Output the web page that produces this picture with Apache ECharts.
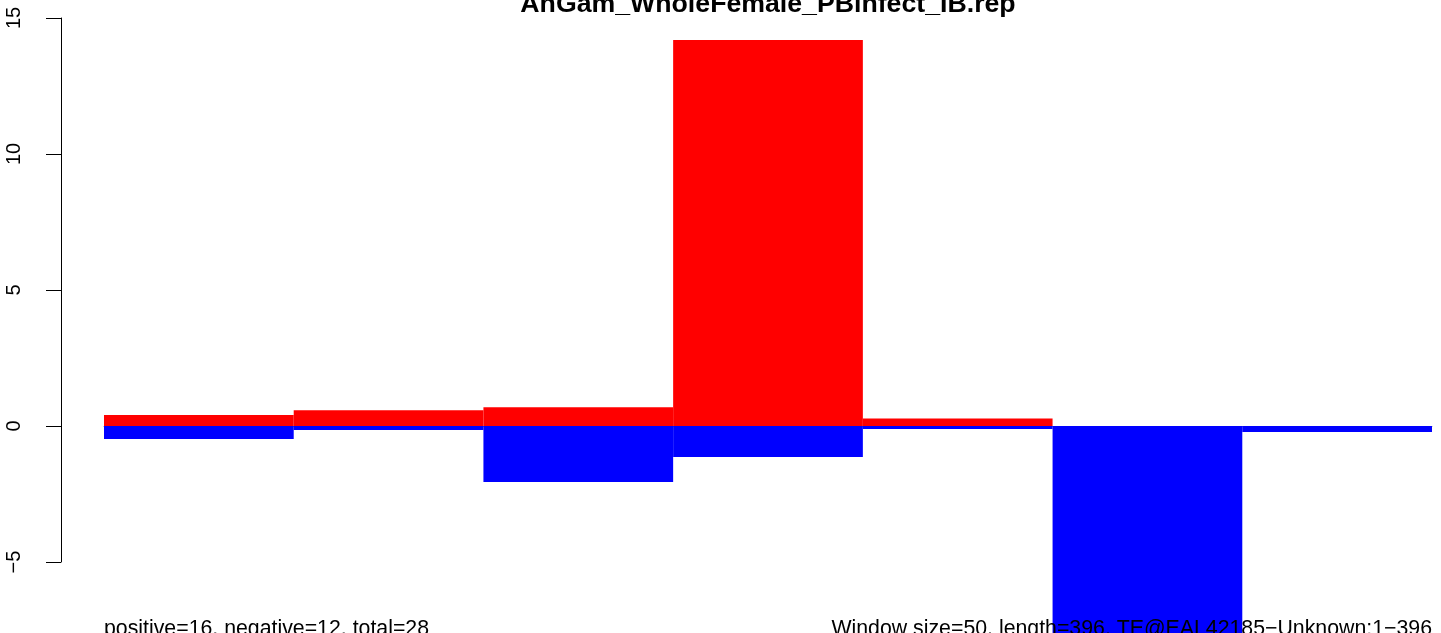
<!DOCTYPE html>
<html>
<head>
<meta charset="utf-8">
<script src="https://cdn.jsdelivr.net/npm/echarts@6/dist/echarts.min.js"></script>
<style>
  html, body { margin: 0; padding: 0; background: #ffffff; }
  #chart { width: 1441px; height: 633px; }
</style>
</head>
<body>
<div id="chart"></div>
<script>
// Sliding windows along the element (window size 50)
const windows = ['1-50', '51-100', '101-150', '151-200', '201-250', '251-300', '301-350'];
// Summed scores per window, positive and negative strands
const positiveScores = [0.40, 0.58, 0.69, 14.19, 0.28, 0, 0];
const negativeScores = [-0.48, -0.15, -2.06, -1.14, -0.11, -8.6, -0.22];
// Y-axis ticks
const yTicks = [-5, 0, 5, 10, 15];

const titleText = 'AnGam_WholeFemale_PBinfect_IB.rep';
const countsText = 'positive=16, negative=12, total=28';
const infoText = 'Window size=50, length=396, TE@EAL42185\u2212Unknown:1\u2212396';

const FONT = '"Liberation Sans", Arial, Helvetica, sans-serif';

// Plot area bounds in pixels
const PLOT_LEFT = 104, PLOT_RIGHT = 1432;

const chart = echarts.init(document.getElementById('chart'), null, { renderer: 'canvas' });

chart.setOption({
  animation: false,
  backgroundColor: '#ffffff',
  title: [
    {
      text: countsText,
      left: PLOT_LEFT,
      top: 619,
      padding: 0,
      textStyle: { fontFamily: FONT, fontWeight: 'normal', fontSize: 21.3, color: '#000000' },
      z: 10
    },
    {
      text: infoText,
      right: 1441 - PLOT_RIGHT,
      top: 619,
      padding: 0,
      textStyle: { fontFamily: FONT, fontWeight: 'normal', fontSize: 21.3, color: '#000000' },
      z: 10
    }
  ],
  graphic: [
    {
      type: 'text',
      x: (PLOT_LEFT + PLOT_RIGHT) / 2,
      y: 5,
      z: 10,
      style: {
        text: titleText,
        fill: '#000000',
        font: 'bold 26.7px ' + FONT,
        align: 'center',
        verticalAlign: 'middle'
      }
    }
  ],
  grid: { left: PLOT_LEFT, right: 1441 - PLOT_RIGHT, top: 18, bottom: 71, containLabel: false },
  xAxis: {
    type: 'category',
    data: windows,
    boundaryGap: true,
    axisLine: { show: true, onZero: true, lineStyle: { color: '#9a9a9a', width: 1 } },
    axisTick: { show: false },
    axisLabel: { show: false },
    splitLine: { show: false }
  },
  yAxis: {
    type: 'value',
    min: yTicks[0],
    max: yTicks[yTicks.length - 1],
    interval: 5,
    offset: 43,
    axisLine: { show: true, lineStyle: { color: '#000000', width: 1 } },
    axisTick: { show: true, length: 15, lineStyle: { color: '#000000', width: 1 } },
    axisLabel: {
      show: true,
      rotate: 90,
      margin: 37,
      fontFamily: FONT,
      fontSize: 20,
      color: '#000000',
      formatter: v => (v < 0 ? '\u2212' + Math.abs(v) : String(v))
    },
    splitLine: { show: false }
  },
  series: [
    {
      name: 'positive',
      type: 'bar',
      data: positiveScores,
      barWidth: '100%',
      barGap: '-100%',
      clip: false,
      itemStyle: { color: '#ff0000' }
    },
    {
      name: 'negative',
      type: 'bar',
      data: negativeScores,
      barWidth: '100%',
      barGap: '-100%',
      clip: false,
      itemStyle: { color: '#0000ff' }
    }
  ]
});
</script>
</body>
</html>
